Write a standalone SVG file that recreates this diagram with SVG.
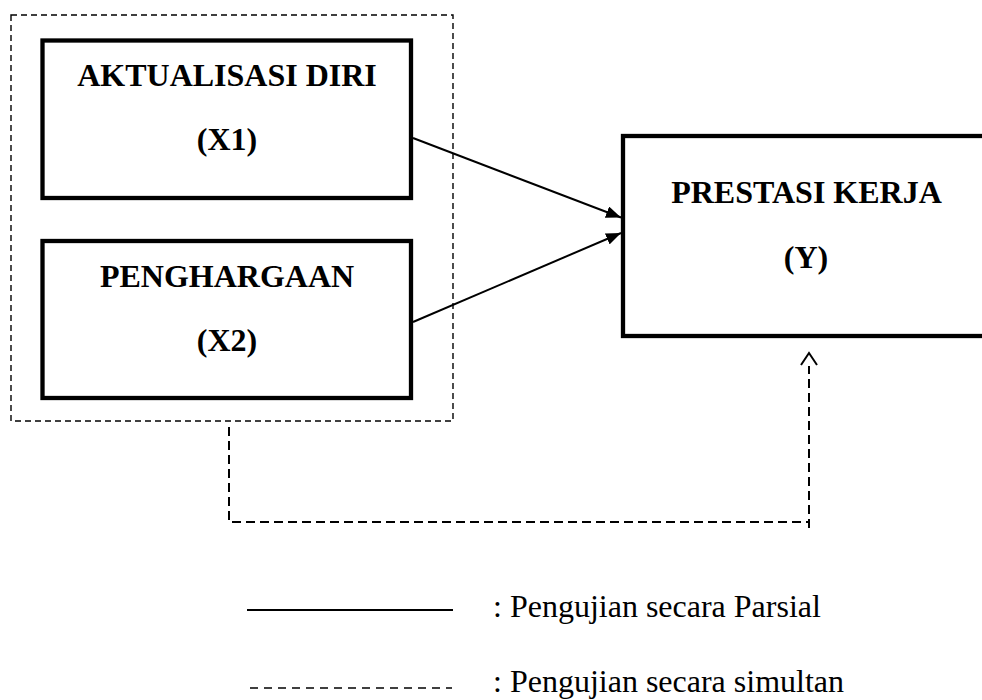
<svg xmlns="http://www.w3.org/2000/svg" width="982" height="700" viewBox="0 0 982 700">
  <style>
    .box { fill: #fff; stroke: #000; stroke-width: 4.3; }
    .title { font-family: "Liberation Serif", "Times New Roman", serif; font-weight: bold; font-size: 32px; fill: #000; text-anchor: middle; }
    .legend { font-family: "Liberation Serif", "Times New Roman", serif; font-size: 32px; fill: #000; }
    .solid { stroke: #000; stroke-width: 2; fill: none; }
    .dash { stroke: #000; stroke-width: 2; fill: none; stroke-dasharray: 9 5; }
    .group { stroke: #000; stroke-width: 1.4; fill: none; stroke-dasharray: 6 4; }
  </style>
  <defs>
    <marker id="arrow" markerUnits="userSpaceOnUse" markerWidth="15" markerHeight="12" refX="15" refY="6" orient="auto" viewBox="0 0 15 12">
      <path d="M0,0 L15,6 L0,12 z" fill="#000"/>
    </marker>
  </defs>

  <rect id="group-x" class="group" x="11" y="15" width="442" height="406"/>

  <g id="node-x1">
    <rect class="box" x="42.5" y="40.5" width="368.5" height="157.5"/>
    <text class="title" x="227" y="86">AKTUALISASI DIRI</text>
    <text class="title" x="227" y="150">(X1)</text>
  </g>

  <g id="node-x2">
    <rect class="box" x="42.5" y="241" width="368.5" height="157"/>
    <text class="title" x="227" y="287">PENGHARGAAN</text>
    <text class="title" x="227" y="351">(X2)</text>
  </g>

  <g id="node-y">
    <rect class="box" x="623" y="136" width="400" height="200"/>
    <text class="title" x="806.5" y="203">PRESTASI KERJA</text>
    <text class="title" x="806" y="268">(Y)</text>
  </g>

  <g id="connectors">
    <line class="solid" x1="413" y1="138" x2="621" y2="217.5" marker-end="url(#arrow)"/>
    <line class="solid" x1="413" y1="322" x2="621" y2="233" marker-end="url(#arrow)"/>
    <path class="dash" d="M229,427 V522 H809"/>
    <line class="dash" x1="809" y1="528" x2="809" y2="366"/>
    <path d="M801,365 L809,353 L817,365" fill="none" stroke="#000" stroke-width="2"/>
  </g>

  <g id="legend">
    <line class="solid" x1="247" y1="610" x2="453" y2="610"/>
    <text class="legend" x="493" y="617">: Pengujian secara Parsial</text>
    <line x1="250" y1="688" x2="452" y2="688" stroke="#000" stroke-width="1.5" stroke-dasharray="8 6"/>
    <text class="legend" x="493" y="692">: Pengujian secara simultan</text>
  </g>
</svg>
